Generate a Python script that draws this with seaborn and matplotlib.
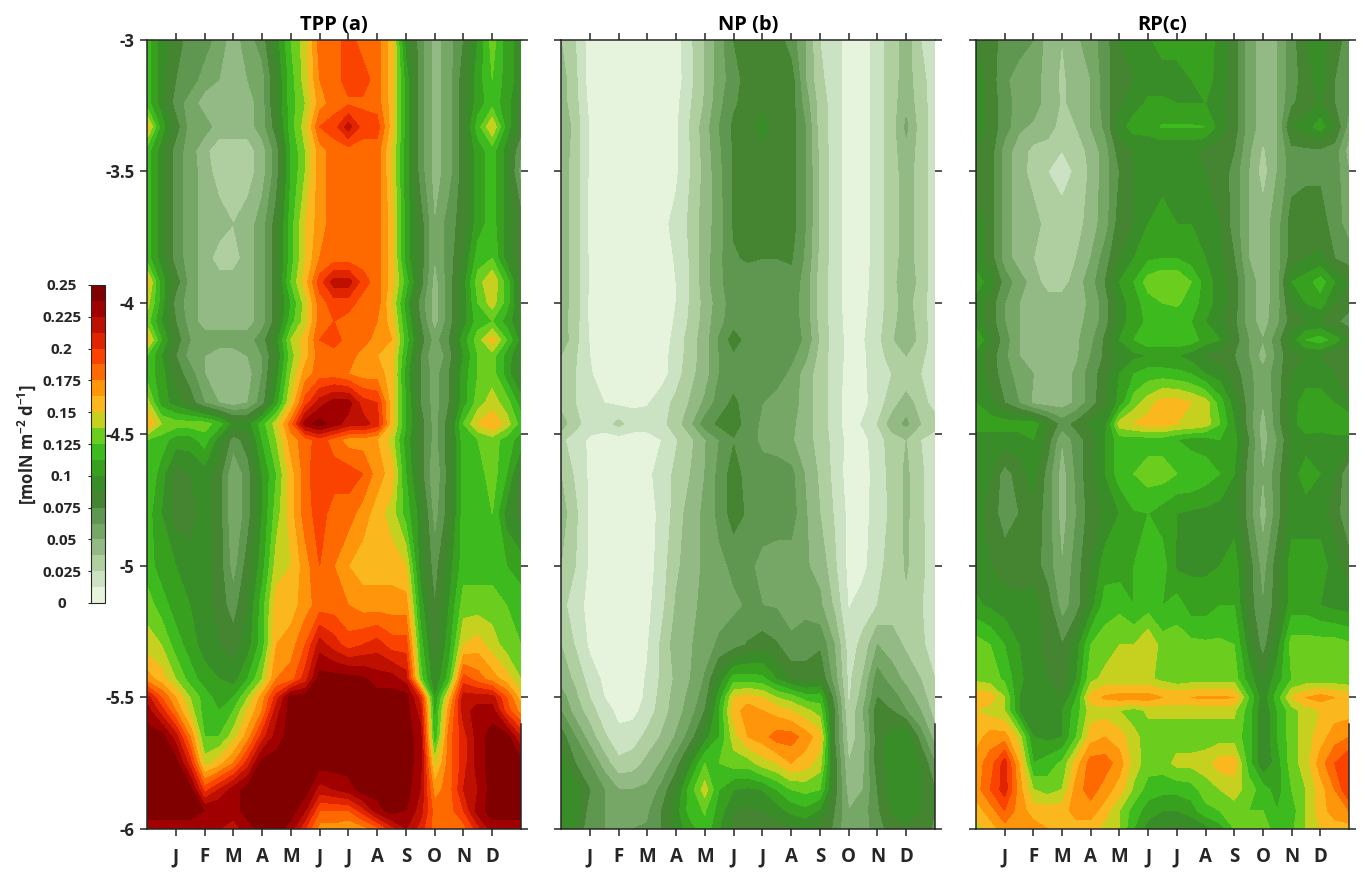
import numpy as np
import matplotlib
matplotlib.use("Agg")
import matplotlib.pyplot as plt
from matplotlib.colors import ListedColormap, BoundaryNorm
import seaborn as sns

MONTH_LABELS = ["J", "F", "M", "A", "M", "J", "J", "A", "S", "O", "N", "D"]
MONTH_TICKS = [1, 2, 3, 4, 5, 6, 7, 8, 9, 10, 11, 12]
MONTHS = [0, .5, 1, 1.5, 2, 2.5, 3, 3.5, 4, 4.5, 5, 5.5, 6, 6.5, 7, 7.5, 8, 8.5, 9, 9.5, 10, 10.5, 11, 11.5, 12, 12.5, 13]
DEPTHS = [-3, -3.15, -3.24, -3.33, -3.42, -3.5, -3.7, -3.83, -3.92, -4, -4.07, -4.14, -4.2, -4.27, -4.38, -4.46, -4.52,
          -4.65, -4.8, -5, -5.15, -5.3, -5.43, -5.5, -5.55, -5.65, -5.75, -5.85, -5.93, -6]
DEPTH_TICKS = [-3, -3.5, -4, -4.5, -5, -5.5, -6]
DEPTH_LABELS = ["-3", "-3.5", "-4", "-4.5", "-5", "-5.5", "-6"]
CBAR_TICKS = [0, .025, .05, .075, .1, .125, .15, .175, .2, .225, .25]
CBAR_LABELS = ["0", "0.025", "0.05", "0.075", "0.1", "0.125", "0.15", "0.175", "0.2", "0.225", "0.25"]
BAND_COLORS = ["#e6f4dd", "#cbe3c3", "#afcfa0", "#93b985", "#77a767", "#5f9750", "#458431", "#398d28",
               "#37a11f", "#3cba1e", "#6bce1e", "#c5d11e", "#fbb81e", "#ff950a", "#ff6a00", "#fb4300",
               "#e02400", "#bd1000", "#a00000", "#800000"]
BAND_WIDTH = 0.0125

# Values, in colour-band numbers (band n spans n to n+1 times BAND_WIDTH, .5 offset below)
TPP = [
 [9,7,6,5,5,4,3,4,5,7,9.5,11,14,14,15,14,14,12,7,5,3,4,5.5,7.5,10,8,7],
 [9,7,5.5,5,4,3.5,3,3.5,4,6.5,9,11,13.5,14,15,15,14,12,8,5,3,4,6,8,9.5,8,7],
 [9,7,5,4,3,3,2.5,3,4,6.5,9,10.5,13,14,14.3,14.3,14,12,8,5,3,4,6,8,9,8,6],
 [12,8,6,4,4,3,3,3,4,6,9,11,14.5,15,17,15,15,12,8,5,3,4,6,9,11.5,8,6],
 [9,7,5,4,2.7,2,2,2,3,5,8.5,10.5,13,14,14,14,14,11.5,8,5,3,4,6,8,9,7,4.5],
 [9,7,5,4,3,2,2,2,3,5,8.5,10.5,13,14,14,14,14,11.5,8,5,3,4,6,8,9,7,4],
 [9,7,5,4,3,3,2.5,3,4,6,9,11.5,13,14,14,14,14,12,8,6,3.5,5,6,8,9,7,6],
 [9,7,5,4,3,2,2,3,4,6,9,11.5,13.5,14,14,14,14,12,8,6,3.5,5,6.5,9,9.5,7,6],
 [12,8,6,4,3,3,3,3,4,6,9.5,12,15,17,17,15,14,12,9,6,3,5,7,10,11.5,9,6],
 [11,8,5,4,3,3,3,3,4,6,8.5,11,14,15,15,14,14,11.5,8,5,3,5,7,9.5,11,9,6],
 [10,7.5,5.5,4,3,3,3,3,4,6,9,11,14,14.5,14,14,13.5,12,8.5,5.5,3,5,7,9,9.5,8,6.5],
 [12,8.5,6,4.5,4,4,4,4,5,7,10.5,12,14.5,15,14,14,13,12.5,9,6,4,5.5,8,10,12,9.5,7],
 [9.5,7.5,5.5,4,3.5,3,3,3.5,4.5,6.5,10,12,14,14,14,13,12.5,12,8.5,5.5,3.5,5,7.5,9.5,10,8,6.5],
 [9,8,6,5,3.5,3,3,3,4.5,7,10.5,13,14,14,13.5,13,13,12,8,5.5,4,5.5,8,9.5,10,8,6],
 [11,8,7,6,4.5,3.5,3,3.5,5,8,11.5,15,17,18,18,16,15.5,12,8.5,5.5,4,5.5,8,10,11,10,8],
 [12.5,10.5,10,10,10,9,7,7,9,11,14,18,19,18,17,17,16,12,8.5,6,4,6,9.5,11.5,12.5,11,9],
 [9.5,9,8,8,9,7,5,6,8.5,10.5,13,14,15,14,13,13,12.5,11,8,6,4,6,9,9.5,10,9,8],
 [9.5,8,6,6.5,7,6,3.5,5,7.5,9.5,12,14,15.5,15,15,14.5,13,12,8.5,6,3.5,6,9,9,10,8.5,6],
 [9,7.5,6,6,7,6,3.5,5,7.5,10,12,14,15,14,14,13,12,11,9,7,4,6,9,9,9.5,7,6],
 [9,8,7.5,7,7,6,4,6,8,11,11.5,13,14.5,13.5,12.5,12,12,12,11.5,7,5,7,9,9,9,8.5,8],
 [10,9,8,7.5,7,6,5,6.5,9,12,12,13,14,14,13.5,13,13,13,13,8,5.5,7.5,10,10,10,9.5,9],
 [11,10.5,9,8,7,6.5,6,7,9,12.5,13,14.5,17,16,15,15.5,16,15,15,9,6,8,11.5,12,11,10,9.5],
 [13,12,10.5,9,8,7.5,7,8.5,10.5,13.5,14,16,19,19,19,18.7,18,18,17,10,6.5,9,15,14,13,12,10.5],
 [17,14.5,12.5,10.5,9,8,8.5,10.5,13,16,19,19,19,19,19,19,19,19,19,16,7.5,12,17,17,17,14.5,12],
 [18,16,13.5,11,9,8.5,9.5,11.5,13.5,17,19,19,19,19,19,19,19,19,19,17,8,13,17,18,18,15,13],
 [19,19,17,13.5,9.5,9.5,11,13,16,18,19,19,19,19,19,19,19,19,19,18,8.5,14,16,18,19,19,16.5],
 [19,19,19,16,11,12,13.5,16,19,19,19,19,19,19,19,19,19,19,19,18,11,14,16,18,19,19,19],
 [19,19,19,19,15,16.5,18,19,19,19,19,19,17,17.5,18,19,19,19,19,17.5,13,14,16.5,17.5,19,19,19],
 [19,19,19,19,18.5,18.5,18,19,19,19,19,17.5,14.5,14.5,14.5,16,18,19,18.5,17,14,14,15.5,18,19,19,19],
 [18,18,18,18,18,17.5,17,18,19,19,18,15.5,13,13,12.5,13,14,16,17.5,16,14,14,14,16,18,18,18],
]
NP = [
 [2.5,1.5,0,0,0,0,0,0,0,1.3,2.5,4,5.5,6,6,6,5,3.5,1.5,1,0,0,1,2,3,1.5,.5],
 [3,1.7,0,0,0,0,0,0,0,1.2,2.5,4,5,6,6,6,6,3.5,1.7,1,0,0,1,2,3,1.8,1],
 [3,1.8,.2,0,0,0,0,0,.2,1.4,2.6,4.2,5.3,6,6.3,6,6,4,2,1,0,0,1,2,3.2,1.9,1],
 [3.5,2,.4,0,0,0,0,0,.3,1.6,3,4.5,5.7,6,7,6,6,4.5,2,1,0,0,1,2,3.7,2,1],
 [3.2,2,.3,0,0,0,0,0,.3,1.5,2.9,4.3,5.6,6,6.2,6,6,4.5,2.2,1,0,0,1,2,3.2,2,1],
 [3,2,.3,0,0,0,0,0,.3,1.5,2.8,4.2,5.6,6,6,6,6,4.5,2.3,1,0,0,1,2,3,2,1],
 [3,2,.2,0,0,0,0,.2,.8,1.7,3,4,5.6,6,6,6,6,4.5,2.3,1,0,0,1,2,3,2,1],
 [3,2,.3,0,0,0,0,0,.6,1.6,3,4.2,5.4,5.6,5.5,5.5,5.6,4.3,2.2,1,0,0,1,2,3,2,1],
 [3,2,.4,0,0,0,0,0,.5,1.6,3,4.3,5,5,5,5,5.2,4,2,1,0,.1,1,2,3.4,2,1],
 [3,2,.2,0,0,0,0,0,.5,1.6,2.8,4,5,5,5,5,5,4,2,1,0,.2,1,2,3,1.8,1],
 [3,1.9,.3,0,0,0,0,0,.6,1.7,2.9,4.2,5,5,5,5,5,4.1,2.1,1,.1,.3,1.1,2.1,3.2,1.9,1],
 [3.2,1.8,.4,0,0,0,0,0,.8,2,3,4.6,6,5,5,5,5,4.3,2.3,1,.2,.4,1.2,2.3,3.5,2,1],
 [2.5,1.6,.5,0,0,0,0,.1,.9,2,3,4.5,5.3,5,5,5,4.8,3.7,2.1,1,.2,.3,1.1,1.9,2.5,1.7,1],
 [2,1.5,.6,0,0,0,0,.1,1,2.2,3,4.5,5,5,5,5,4.2,3,2,1,.1,.3,1,1.5,1.7,1.5,1],
 [2.2,1.5,.8,.5,.3,.3,.4,1,1.8,2.6,3.7,5,5.7,5,4.5,4,4,3,2,1,0,.2,1,2,3,2,1],
 [3,1.8,1,1,1.8,1,1,1.2,2,3.2,5,5.7,6,5,4.3,4,3.7,3,2,1,0,.6,1.5,3,3.7,2.5,2],
 [1.7,1,.3,0,0,0,0,.5,1.4,2.2,3.4,4.5,5.4,5,4.2,4,3.6,3,2,1.2,.1,.2,1,2,2.5,1.5,.8],
 [2.5,1.3,.3,0,0,0,.2,1,1.7,2.5,3.5,4.8,6,5,5,5,4.8,3.4,2.3,1.2,0,0,1,1.8,2.7,1.7,.8],
 [3,1.7,.3,0,0,0,0,.8,1.9,3,3.7,4.8,6,5.3,5,5,5,3.6,2.5,1.4,.2,.1,1,1.7,2.7,1.7,.8],
 [2.5,1.5,.3,0,0,0,0,1,2.3,3,3.7,4.2,4.7,4.7,4.2,4,4,3.6,3.2,1.7,.2,.2,1.2,1.9,2.6,1.8,.8],
 [1.8,1,.1,0,0,0,.2,1.2,2.6,3.2,3.8,4,4.3,4.6,4.5,4.4,4.3,4.2,3.7,2.3,.4,1,1.5,2,2.3,1.6,.6],
 [2.5,1.4,.3,0,0,0,.4,1.7,3,3.4,4,4.7,5,5.6,6,5.6,4.6,5,5.3,3.5,1,1.8,3.5,3,2.3,1.7,1],
 [3,2.3,1,.3,0,0,.6,1.7,2.7,3.5,4.6,6.8,9,9,8.8,7.5,6.4,6,6.4,4,1.2,2.6,5,4,3.2,2.5,1.5],
 [4,2.7,1.5,.5,0,0,.7,1.9,2.9,3.8,5,8,11.5,12,11.5,10.5,10,9,9,5,1.3,3,5.5,5,4,3,1.8],
 [4.5,3,2,.8,.3,.2,.9,2,3,4,5.5,8.5,12,13,12.5,12,11.5,10.8,10,5.5,1.5,3.5,6,5.5,4.5,3.5,2],
 [6,4.5,3,1.7,.7,1,1.8,2.6,3.6,5,7,8.5,11,12.5,13,14,14,13,12,5.5,2,3,6,7,7.5,5,3],
 [7,5.5,4.5,3,1.8,2,2.8,3.6,5,7.2,9.5,9.5,10,10,11,11.5,12.5,12,11,6,2.5,3.2,6,7,7.5,6.5,4.5],
 [7,7,5.5,4.5,3.5,3.5,3.7,4.8,6.5,9,11,8.5,7.5,7.3,7.5,8.5,9.5,9.8,9.5,6,3,3.5,5.5,7,7.3,6.5,5.5],
 [7,7,5,4.5,4.3,4.3,4.3,5.5,7,9,9.6,8,6.5,6.3,6.5,7,7.8,8.2,7.3,5.5,3.5,4,5.3,6.6,7,6.5,5.5],
 [7,6.5,4.7,4.5,4.5,4.5,4.6,5.5,7,8,9.2,7.5,6.3,6,6,6,6.2,6.5,6.3,5.3,3.5,4,5,6,6.3,6,5.3],
]
RP = [
 [6.5,6,5,5,4.5,3,2.5,3.3,4,5,6.5,7,7.3,8,8,8,8.3,7,6,4,3,3.5,5,6.5,7,6,5],
 [7,6,4.7,4,4,3,2.3,3,3.5,5,6.3,6.5,7,7,7,7.5,8,7,6,4,3,3.5,5,6,7,5.5,5],
 [7,6,5,4,4,3,2.4,2.7,3.5,5,6.3,7,7.7,7.7,7.5,7.5,7.5,6.7,6,4,3,3.5,5.3,6,6.6,5.5,4.7],
 [7.5,6,5,3.7,3.3,3,2,2.5,3.5,4.7,7,8,8,8.6,8.6,8.6,8.5,7,6,4,3,3.5,6.5,7,8,6.5,4],
 [6.5,6,4,3,2.2,2,1.5,2,2.8,4,6,6.5,6.6,6.6,6.6,6.6,6.3,6,5.5,3.7,2.3,3.5,5.2,5.3,5.3,5,3],
 [6,6,4,3,2,1.5,1,1.7,2.7,4,5.5,6.5,6.8,7,7.5,7,6.5,6.3,5,3.5,2,3.5,5,5.3,5.3,5,3.5],
 [7,6,4,3,3,2,2,2,3,4,6,6.5,7.5,8,7.5,7.5,7,6.5,5,3.5,3,4,6,6,6,5,4],
 [7,6,4,3,2.5,2,2,2.5,3.5,5,6.5,7.5,8.3,8.5,8.5,8,7.5,6.8,5.5,3.5,3,4,6,6.5,6.7,5.5,5],
 [8,7,5,4,3,2,2,3,4,5.5,7.5,8.5,10,10.5,10.5,9.5,8,7,6,4,3,4,7.5,8,9,7.5,6.5],
 [7,6,4.5,3.5,3,3,3,3,3.7,5,7,8,9,9.5,9.7,9,8,7,6,4,3,4,6.5,7.5,8,6.5,6],
 [7,6,4.5,3.5,3,3,3,3.2,3.8,5,7,8,8.7,8.7,8.7,8.5,7.5,6.7,5.7,4,3,4.2,6,6.5,6.5,5.7,5],
 [8.5,6.5,5,3.5,3.2,2.8,2.9,3.3,4.2,5.7,7.5,8.5,9.3,9.3,9.3,9,8,7.5,6,4.5,3.5,5,7,8.5,9,8,6.5],
 [7,6,4.7,3.5,3,2.8,2.9,3.3,4.5,5.7,7,7.2,7.5,7.5,7.5,7,6.3,6,5.5,4.5,3,4.8,6.3,6.5,6.5,5.7,5.5],
 [7.3,6,5,4,3.5,3.3,3,3.7,5,6,7.5,8.5,9,9,8.8,8.5,7.5,7,6,4.8,3.8,5,6.5,7,7,6.5,6],
 [7.5,6.8,5.5,4.5,3.3,3,3,3.7,5,6.3,7.8,10,11,12,12,11.5,11,9,7,5,3.5,5,7,8,8,7.5,6.5],
 [8,8,8,8,8,6.5,5,5.8,6.7,7,11,11.5,12,12,11.5,11.5,11,9.5,7.5,5,3,5,7,8.3,8,8.5,8.5],
 [7,7,7,7,7.5,6,3.5,5,6,7.5,9,9,9,9,8.5,8,8,8.5,8,5.5,3,4.5,6.5,7,7,7,7],
 [7,6.5,5,6,7,5,3,4.7,6.3,7.5,9,9.5,10,10,9.5,9.5,9,8.5,7.5,5,3.5,5,7,8,7.5,6.5,4.5],
 [7,6,5,5.5,6.2,5,3,4.5,6,6.7,7.5,8.4,8.5,8,7.5,7.3,7.2,7,7,5,3,5,7,7,7,6,4.5],
 [7,6.5,6,5.6,6,5,3.5,5,6.5,8,8,8.5,8.7,9,7.3,7.3,7.3,7.5,8,6,4,6,8,8,8,7,6],
 [7.7,7.3,7,7,7,6,4,5,7,9,9.2,8.5,9,8.5,9,8,8,8.5,8.5,6,4.5,6,8,8,7.5,7.2,7],
 [10,9.5,8.5,7.5,7,6,5.5,7,9.5,10,10.5,10.5,11.5,10,10,9.8,9.7,9.7,9.5,7,5,7,10,10,10,10,9.7],
 [10.2,10,9.3,7.7,7,6.5,6,7.5,10.2,10.8,10.6,10.6,10.7,10.2,9.7,10,10,10,10,8,6.5,8,9.5,9.8,9.8,9.8,9.6],
 [12.3,12,10.5,7.5,7,6.7,6.5,8.5,12,12.7,13,13,13,12.5,12.5,12.5,12.7,12.7,12.5,9.5,6.8,9,11.5,12.5,13,12.5,12.3],
 [11.5,11,10.5,7.5,7,7,7.5,9,11,11,10.5,10,10.7,10.7,10.7,10.7,10.7,10.7,10.7,9,6.5,8.5,10,11,11.5,12,12],
 [12,13,13,11,7.5,7.2,7.5,9.5,12,12.5,12,10.8,10,10,10,10,10,10,10,9,6.5,8.5,10,11,12,13,13.5],
 [13,14,16,12.5,8.5,9,9.7,12,14,14,13,11,10,10,10.8,10.8,11,12,12,9,6.5,8,10,11,13,14.5,15.5],
 [13,14.5,16,13,10.5,10,10.5,13,14,13,12,10.3,9,8.8,8.8,9,10,10.5,11,10,9,8,9.5,10.5,12,13.5,15.5],
 [12,13,14.5,13,12,12,12,13,13,12,10.5,9,8,7.5,7.5,8,9.2,9.5,10,9.5,9.5,8.5,9,10.5,12,13,13.5],
 [11,12,13,13,13,12.5,12,12,12,11,10.5,8.5,7,6.5,6.2,6.5,7,8,9.5,10,10,9,9.3,10.5,11.5,12,12],
]
PANELS = [("TPP (a)", TPP), ("NP (b)", NP), ("RP(c)", RP)]

sns.set_theme(style="ticks")
plt.rcParams["font.family"] = ["Open Sans", "DejaVu Sans"]
plt.rcParams["font.weight"] = "bold"
plt.rcParams["mathtext.default"] = "regular"
plt.rcParams["mathtext.fontset"] = "custom"
plt.rcParams["mathtext.rm"] = "Open Sans:bold"

W, H = 1370, 880
DARK = "#262626"
cmap = ListedColormap(sns.color_palette(BAND_COLORS, n_colors=len(BAND_COLORS)))
levels = np.arange(len(BAND_COLORS) + 1) * BAND_WIDTH
norm = BoundaryNorm(levels, cmap.N)

fig = plt.figure(figsize=(W / 100, H / 100), dpi=100)


def box(x0, x1, y0, y1):
    return [x0 / W, 1 - y1 / H, (x1 - x0) / W, (y1 - y0) / H]


lefts = [(147, 521), (561, 935), (976, 1349)]
cf = None
for (title, grid), (x0, x1) in zip(PANELS, lefts):
    ax = fig.add_axes(box(x0, x1, 40, 829))
    z = (np.array(grid, dtype=float) + 0.5) * BAND_WIDTH
    cf = ax.contourf(MONTHS, DEPTHS, z, levels=levels, cmap=cmap, norm=norm, antialiased=False)
    ax.set_xlim(0, 13)
    ax.set_ylim(-6, -3)
    ax.set_xticks(MONTH_TICKS, MONTH_LABELS)
    ax.set_yticks(DEPTH_TICKS)
    if x0 == 147:
        ax.set_yticklabels(DEPTH_LABELS)
    else:
        ax.set_yticklabels([])
    ax.tick_params(axis="both", direction="out", length=5, width=1.1, color=DARK, labelcolor=DARK,
                   top=True, bottom=True, left=True, right=True, labelsize=12)
    ax.tick_params(axis="x", pad=8, labelsize=13.5)
    ax.tick_params(axis="y", pad=4)
    for s in ax.spines.values():
        s.set_linewidth(1.1)
        s.set_color(DARK)
    ax.spines["right"].set_bounds(-6, -5.6)
    ax.set_title(title, fontsize=14.5, fontweight="bold", color="black", pad=7)

cax = fig.add_axes(box(91, 105, 285, 603))
cb = fig.colorbar(cf, cax=cax, spacing="proportional", drawedges=False)
cb.set_ticks(CBAR_TICKS, labels=CBAR_LABELS)
cb.minorticks_off()
cax.yaxis.set_ticks_position("left")
cax.tick_params(axis="y", length=2, width=0.8, color=DARK, labelcolor=DARK, labelsize=11, pad=19)
for lab in cax.get_yticklabels():
    lab.set_ha("center")
cb.outline.set_linewidth(0.8)
cb.outline.set_edgecolor(DARK)
fig.text(27 / W, 1 - 445 / H, r"[molN m$^{-2}$ d$^{-1}$]", rotation=90, ha="center", va="center",
         fontsize=12, fontweight="bold", color=DARK)

fig.savefig("out.png", dpi=100, facecolor="white")
